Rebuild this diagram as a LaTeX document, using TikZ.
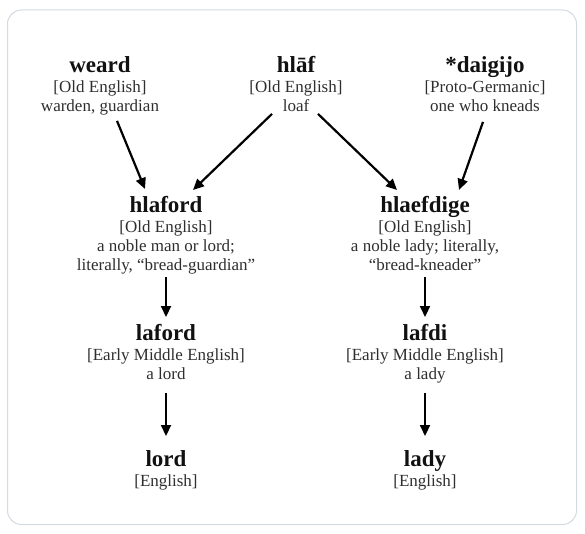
\documentclass[tikz,border=0pt]{standalone}
\usepackage{fontspec}
\setmainfont{Liberation Serif}
\usetikzlibrary{arrows.meta}
\definecolor{framecol}{HTML}{D3DAE1}
\definecolor{bodycol}{HTML}{2E2E2E}
\definecolor{titlecol}{HTML}{111111}
\newcommand\wordtitle[1]{{\fontsize{23}{19}\selectfont\bfseries\color{titlecol}\rule{0pt}{17pt}#1}}
\newcommand\dstrut{\rule[-4pt]{0pt}{4pt}}
\begin{document}
\begin{tikzpicture}[x=1pt,y=-1pt,
  word/.style={align=center, inner sep=0pt, anchor=north, font=\fontsize{17}{19}\selectfont, text=bodycol},
  arr/.style={draw=black, line width=2.2pt, -{Triangle[length=11pt,width=10pt]}}]
\useasboundingbox (0,0) rectangle (585,534);
\draw[framecol, line width=1pt, rounded corners=14pt] (7.5,10) rectangle (576.5,524.5);

\node[word] (weard) at (100,55) {\wordtitle{weard}\\[1.5pt]{[Old English]}\\warden, guardian\dstrut};
\node[word] (hlaf) at (296,55) {\wordtitle{hlāf}\\[1.5pt]{[Old English]}\\loaf\dstrut};
\node[word] (daig) at (485,55) {\wordtitle{*daigijo}\\[1.5pt]{[Proto-Germanic]}\\one who kneads\dstrut};

\node[word] (hlaford) at (166,195) {\wordtitle{hlaford}\\[1.5pt]{[Old English]}\\a noble man or lord;\\literally, “bread-guardian”\dstrut};
\node[word] (hlaefdige) at (425,195) {\wordtitle{hlaefdige}\\[1.5pt]{[Old English]}\\a noble lady; literally,\\“bread-kneader”\dstrut};

\node[word] (laford) at (166,323) {\wordtitle{laford}\\[1.5pt]{[Early Middle English]}\\a lord\dstrut};
\node[word] (lafdi) at (425,323) {\wordtitle{lafdi}\\[1.5pt]{[Early Middle English]}\\a lady\dstrut};

\node[word] (lord) at (166,449) {\wordtitle{lord}\\[1.5pt]{[English]}\dstrut};
\node[word] (lady) at (425,449) {\wordtitle{lady}\\[1.5pt]{[English]}\dstrut};

\draw[arr] ([xshift=17pt,yshift=-5pt]weard.south) -- ([xshift=-21pt,yshift=6pt]hlaford.north);
\draw[arr] ([xshift=-24pt,yshift=2pt]hlaf.south) -- ([xshift=27pt,yshift=5pt]hlaford.north);
\draw[arr] ([xshift=22pt,yshift=2pt]hlaf.south) -- ([xshift=-28pt,yshift=5pt]hlaefdige.north);
\draw[arr] ([xshift=-2pt,yshift=-6pt]daig.south) -- ([xshift=34pt,yshift=5pt]hlaefdige.north);

\draw[arr] ([yshift=-2pt]hlaford.south) -- ([yshift=6pt]laford.north);
\draw[arr] ([yshift=-2pt]hlaefdige.south) -- ([yshift=6pt]lafdi.north);
\draw[arr] ([yshift=-9pt]laford.south) -- ([yshift=13pt]lord.north);
\draw[arr] ([yshift=-9pt]lafdi.south) -- ([yshift=13pt]lady.north);
\end{tikzpicture}
\end{document}
